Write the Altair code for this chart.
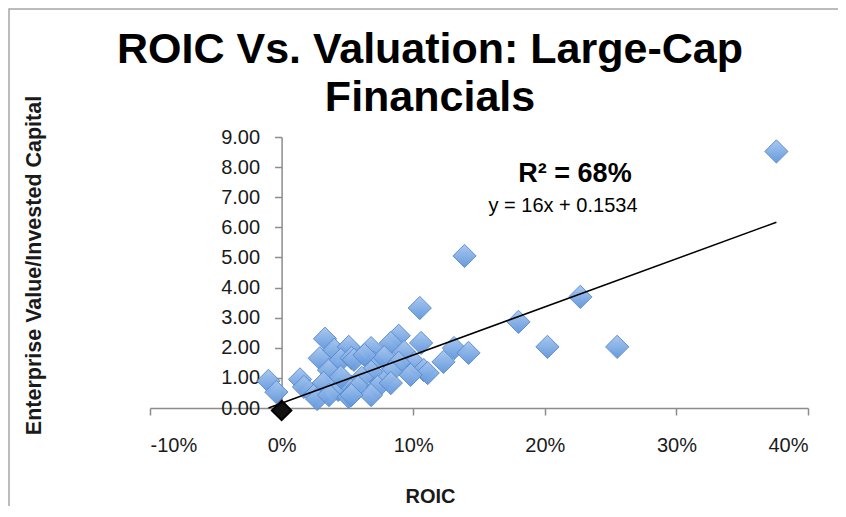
import altair as alt
import pandas as pd

# ---- data ----
roic = [-0.010, -0.004, 0.014, 0.017, 0.025, 0.027, 0.033, 0.029, 0.036, 0.032,
        0.040, 0.051, 0.045, 0.053, 0.043, 0.036, 0.053, 0.051, 0.045, 0.105,
        0.180, 0.089, 0.106, 0.131, 0.142, 0.123, 0.083, 0.093, 0.068, 0.055,
        0.070, 0.078, 0.101, 0.108, 0.111, 0.098, 0.089, 0.083, 0.076, 0.068,
        0.061, 0.058, 0.073, 0.083, 0.068, 0.053, 0.063, 0.139, 0.376, 0.227,
        0.202, 0.255]
ev_ic = [0.90, 0.53, 0.95, 0.70, 0.43, 0.30, 2.30, 1.65, 1.26, 0.83,
         1.93, 2.03, 1.60, 1.66, 0.60, 0.43, 0.70, 0.37, 1.03, 3.32,
         2.86, 2.40, 2.16, 1.99, 1.83, 1.53, 2.16, 1.86, 1.99, 1.60,
         1.50, 1.69, 1.50, 1.26, 1.16, 1.10, 1.50, 1.20, 0.93, 1.20,
         1.00, 0.70, 0.70, 0.83, 0.43, 0.43, 1.76, 5.05, 8.52, 3.69,
         2.03, 2.03]
origin_roic = [0.0]
origin_ev = [-0.08]
trend_roic = [-0.010, 0.376]
trend_ev = [0.0, 6.17]
x_ticks = [-0.1, 0.0, 0.1, 0.2, 0.3, 0.4]
y_ticks = [0, 1, 2, 3, 4, 5, 6, 7, 8, 9]
title_lines = ["ROIC Vs. Valuation: Large-Cap", "Financials"]
r2_label = "R² = 68%"
eq_label = "y = 16x + 0.1534"
x_title = "ROIC"
y_title = "Enterprise Value/Invested Capital"

FONT = "Liberation Sans"
AXIS_GRAY = "#8c8c8c"
TEXT = "#1a1a1a"

pts = pd.DataFrame({"roic": roic, "ev": ev_ic})
org = pd.DataFrame({"roic": origin_roic, "ev": origin_ev})
trend = pd.DataFrame({"roic": trend_roic, "ev": trend_ev})

xscale = alt.Scale(domain=[-0.1, 0.4], nice=False, zero=False)
yscale = alt.Scale(domain=[0, 9], nice=False, zero=False)

x_axis = alt.Axis(
    values=x_ticks, grid=False, tickSize=7, labelPadding=20, labelOverlap=False,
    labelExpr="(datum.value < 0 ? '-' : '') + format(abs(datum.value) * 100, '.0f') + '%'",
    labelFont=FONT, labelFontSize=20, labelColor=TEXT,
    domainColor=AXIS_GRAY, tickColor=AXIS_GRAY, domainWidth=1.5, tickWidth=1.5,
    title=x_title, titleFont=FONT, titleFontSize=20, titleFontWeight="bold",
    titleColor=TEXT, titleX=280, titleY=94, titleAlign="center",
    titleBaseline="alphabetic",
)
y_axis = alt.Axis(
    values=y_ticks, format=".2f", grid=False, tickSize=7, labelPadding=15,
    labelOverlap=False, labelBound=False, offset=-131.6,
    labelFont=FONT, labelFontSize=20, labelColor=TEXT,
    domainColor=AXIS_GRAY, tickColor=AXIS_GRAY, domainWidth=1.5, tickWidth=1.5,
    title=y_title, titleFont=FONT, titleFontSize=21.5, titleFontWeight="bold",
    titleColor=TEXT, titleAngle=-90, titleX=-247, titleY=128,
    titleAlign="center", titleBaseline="middle",
)

X = alt.X("roic:Q", scale=xscale, axis=x_axis)
Y = alt.Y("ev:Q", scale=yscale, axis=y_axis)

border = alt.Chart(pd.DataFrame({"k": [0]})).mark_rect(
    fill="transparent", stroke="#a6a6a6", strokeWidth=1.5
).encode(x=alt.value(-141), x2=alt.value(720), y=alt.value(-128), y2=alt.value(420))

diamond_fill = alt.Gradient(
    gradient="linear",
    stops=[alt.GradientStop(color="#a6c6ef", offset=0),
           alt.GradientStop(color="#5e95db", offset=1)],
    x1=0, y1=0, x2=0, y2=1,
)

points = alt.Chart(pts).mark_point(
    shape="diamond", size=540, filled=True, fill=diamond_fill,
    stroke="#5a8ad0", strokeWidth=1, opacity=0.95,
).encode(x=X, y=Y)

origin = alt.Chart(org).mark_point(
    shape="diamond", size=380, filled=True, fill="#111111", stroke="#000000", opacity=1
).encode(x=X, y=Y)

line = alt.Chart(trend).mark_line(color="#000000", strokeWidth=1.5).encode(x=X, y=Y)


def label(text, x, y, size, weight="normal"):
    return alt.Chart(pd.DataFrame({"t": [text]})).mark_text(
        font=FONT, fontSize=size, fontWeight=weight, color="#000000",
        align="center", baseline="alphabetic",
    ).encode(x=alt.value(x), y=alt.value(y), text="t:N")


title1 = label(title_lines[0], 280, -74, 43, "bold")
title2 = label(title_lines[1], 280, -26, 43, "bold")
r2 = label(r2_label, 425, 45, 27, "bold")
eq = label(eq_label, 413, 75, 20)

chart = alt.layer(border, points, origin, line, title1, title2, r2, eq).properties(
    width=658, height=271,
    autosize=alt.AutoSizeParams(type="none"),
    padding={"left": 142, "top": 129, "right": 30, "bottom": 98},
    background="white",
).configure_view(stroke=None)

chart.save("out.html", embed_options={"renderer": "svg", "actions": False})
